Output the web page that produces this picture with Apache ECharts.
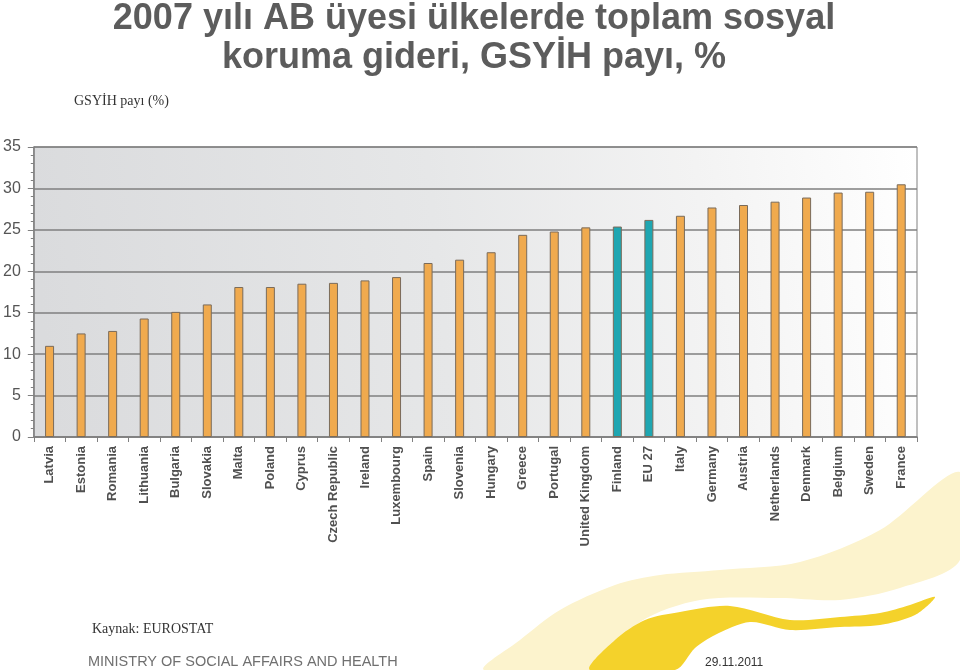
<!DOCTYPE html>
<html>
<head>
<meta charset="utf-8">
<script src="https://cdn.jsdelivr.net/npm/echarts@6/dist/echarts.min.js"></script>
<style>html,body{margin:0;padding:0;background:#fff}#c{width:960px;height:670px}</style>
</head>
<body>
<div id="c"></div>
<script>
var categories = ['Latvia','Estonia','Romania','Lithuania','Bulgaria','Slovakia','Malta','Poland','Cyprus','Czech Republic','Ireland','Luxembourg','Spain','Slovenia','Hungary','Greece','Portugal','United Kingdom','Finland','EU 27','Italy','Germany','Austria','Netherlands','Denmark','Belgium','Sweden','France'];
var values = [11.0,12.5,12.8,14.3,15.1,16.0,18.1,18.1,18.5,18.6,18.9,19.3,21.0,21.4,22.3,24.4,24.8,25.3,25.4,26.2,26.7,27.7,28.0,28.4,28.9,29.5,29.6,30.5];
var highlighted = ['Finland','EU 27'];
var yTicks = [0,5,10,15,20,25,30,35];

var chart = echarts.init(document.getElementById('c'), null, {renderer:'canvas'});
var data = values.map(function(v,i){
  var hl = highlighted.indexOf(categories[i]) >= 0;
  return {value:v, itemStyle:{color: hl ? '#1fa6b1' : '#f0aa4e'}};
});
var paleSwoosh = [[484,670],[520,640],[560,610],[615,585],[660,575],[720,570],[800,562],[880,530],[960,472],[960,560],[900,588],[840,600],[780,598],[700,600],[640,622],[595,670]];
var brightSwoosh = [[590,670],[615,640],[645,620],[680,612],[730,606],[790,620],[840,617],[880,613],[910,605],[935,597],[915,615],[880,625],[840,627],[790,630],[750,622],[715,635],[695,648],[675,670]];
chart.setOption({
  animation:false,
  backgroundColor:'#ffffff',
  title:{
    text:'2007 yılı AB üyesi ülkelerde toplam sosyal\nkoruma gideri, GSYİH payı, %',
    left:469, top:-5, textAlign:'center',
    textStyle:{fontFamily:'Liberation Sans', fontSize:36, fontWeight:'bold', color:'#5c5c5c', lineHeight:39}
  },
  grid:{left:31, right:43, top:147, bottom:233, show:true, borderColor:'#808080', borderWidth:1,
    backgroundColor:{type:'linear', x:0, y:0.3, x2:1, y2:0, colorStops:[
      {offset:0,color:'#dadbdd'},{offset:0.45,color:'#e6e7e8'},{offset:0.75,color:'#f3f3f3'},{offset:1,color:'#ffffff'}]}},
  xAxis:{
    type:'category', data:categories, boundaryGap:true,
    axisLine:{lineStyle:{color:'#808080', width:1.5}},
    axisTick:{show:true, alignWithLabel:false, length:5, lineStyle:{color:'#808080'}},
    axisLabel:{rotate:90, margin:9, fontFamily:'Liberation Sans', fontSize:13, fontWeight:'bold', color:'#505050', interval:0}
  },
  yAxis:{
    type:'value', min:0, max:35, interval:5,
    axisLine:{show:true, lineStyle:{color:'#808080', width:1.5}},
    axisTick:{show:true, length:6, lineStyle:{color:'#808080'}},
    minorTick:{show:true, splitNumber:5, length:3, lineStyle:{color:'#808080'}},
    splitLine:{show:true, lineStyle:{color:'#7f7f7f', width:1.5}},
    axisLabel:{margin:13, fontFamily:'Liberation Sans', fontSize:16, color:'#555555',
      formatter:function(v){return yTicks.indexOf(v)>=0 ? String(v) : '';}}
  },
  series:[{
    type:'bar', data:data, barWidth:9,
    itemStyle:{borderColor:'#7a6b5a', borderWidth:1}
  }],
  graphic:[
    {type:'text', left:74, top:94, style:{text:'GSYİH payı (%)', fontFamily:'Liberation Serif', fontSize:14, fill:'#333333'}},
    {type:'polygon', z:-1, shape:{points:paleSwoosh, smooth:0.3}, style:{fill:'#fcf3cd'}},
    {type:'polygon', z:-1, shape:{points:brightSwoosh, smooth:0.3}, style:{fill:'#f4d22b'}},
    {type:'text', left:92, top:622, style:{text:'Kaynak: EUROSTAT', fontFamily:'Liberation Serif', fontSize:14, fill:'#333333'}},
    {type:'text', left:88, top:654, style:{text:'MINISTRY OF SOCIAL AFFAIRS AND HEALTH', fontFamily:'Liberation Sans', fontSize:14.5, fill:'#707070'}},
    {type:'text', left:705, top:657, style:{text:'29.11.2011', fontFamily:'Liberation Sans', fontSize:12, fill:'#333333'}}
  ]
});
</script>
</body>
</html>
